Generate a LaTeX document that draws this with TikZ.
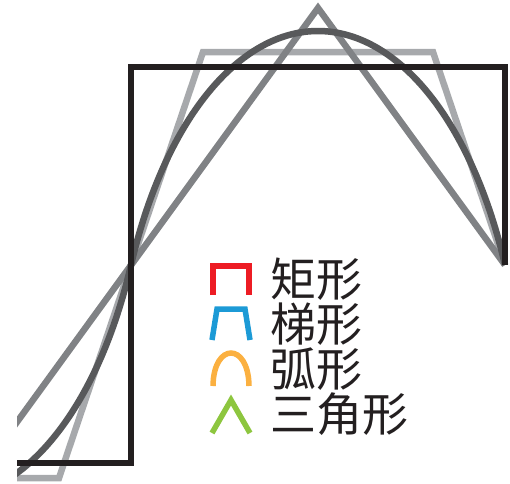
\documentclass[tikz,border=0pt]{standalone}
\usepackage{fontspec}
\newfontfamily\cjk{Noto Sans CJK SC}
\definecolor{sqblack}{HTML}{231F20}
\definecolor{sinegray}{HTML}{58595B}
\definecolor{trigray}{HTML}{808285}
\definecolor{trapgray}{HTML}{A7A9AC}
\definecolor{legred}{HTML}{ED1C24}
\definecolor{legblue}{HTML}{1C9AD6}
\definecolor{legorange}{HTML}{FBB040}
\definecolor{leggreen}{HTML}{8DC63F}
\tikzset{
  wave/.style={line width=6.5pt, line join=miter, line cap=butt},
  icon/.style={line width=5.5pt, line join=miter, line cap=butt},
  legtext/.style={anchor=west, inner sep=0pt, text=sqblack, font=\cjk\fontsize{46}{46}\selectfont}
}
\begin{document}
\begin{tikzpicture}[x=1pt,y=-1pt]
\useasboundingbox (0,0) rectangle (510,483);
\begin{scope}
  \clip (17,0) rectangle (510,483);
  % trapezoid wave
  \draw[wave, trapgray] (10,478) -- (59,478) -- (203,52) -- (433,52) -- (505,265);
  % triangle wave
  \draw[wave, trigray] (10,431.6) -- (318,8) -- (505,265);
  % arc (smooth) wave
  \draw[wave, sinegray]
    plot[domain=10:131, samples=60, smooth] (\x, {102.6 + 396.4*sqrt(1-((\x+56)/205)^2)})
    -- plot[domain=131:505, samples=120, smooth] (\x, {427.4 - 396.4*sqrt(1-((\x-318)/205)^2)});
  % square wave
  \draw[wave, sqblack] (10,463) -- (131,463) -- (131,67) -- (505,67) -- (505,265);
\end{scope}
% legend icons
\draw[icon, legred] (213,295) -- (213,266) -- (249,266) -- (249,295);
\draw[icon, legblue] (212,340) -- (217,309) -- (245,309) -- (250,340);
\draw[icon, legorange] (213,386) .. controls (213.5,342) and (248.5,342) .. (249,386);
\draw[icon, leggreen] (212,433) -- (231,400) -- (250,433);
% legend texts
\node[legtext] (rect) at (270,279) {矩形};
\node[legtext] (trap) at (270,324.5) {梯形};
\node[legtext] (arc) at (270,369) {弧形};
\node[legtext] (tri) at (270,414.5) {三角形};
\end{tikzpicture}
\end{document}
